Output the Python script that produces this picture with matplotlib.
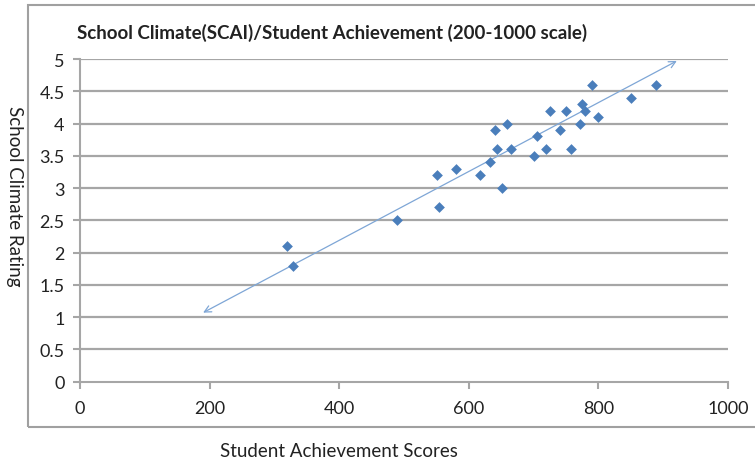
import matplotlib.pyplot as plt
from matplotlib.patches import Rectangle

# data
scores = [319, 329, 489, 551, 554, 580, 617, 633, 640, 643, 651, 659, 665,
          701, 705, 719, 725, 741, 750, 758, 771, 774, 780, 790, 800, 851, 889]
climate = [2.1, 1.8, 2.5, 3.2, 2.7, 3.3, 3.2, 3.4, 3.9, 3.6, 3.0, 4.0, 3.6,
           3.5, 3.8, 3.6, 4.2, 3.9, 4.2, 3.6, 4.0, 4.3, 4.2, 4.6, 4.1, 4.4, 4.6]
trend_x = [190, 921]
trend_y = [1.07, 4.97]
xticks = [0, 200, 400, 600, 800, 1000]
yticks = [0, 0.5, 1, 1.5, 2, 2.5, 3, 3.5, 4, 4.5, 5]

plt.rcParams['font.family'] = ['Lato', 'DejaVu Sans']

fig = plt.figure(figsize=(7.55, 4.64), dpi=100)
ax = fig.add_axes([80/755, 1-382.7/464, 648/755, (382.7-60)/464])

# outer chart frame
fig.patches.append(Rectangle((28/755, 1-428/464), 1.0, (428-6)/464,
                             transform=fig.transFigure, fill=False,
                             edgecolor='#a0a0a0', lw=1.5))

for y in yticks[1:]:
    ax.axhline(y, color='#a6a6a6', lw=1.6, zorder=0)

ax.annotate('', xy=(trend_x[1], trend_y[1]), xytext=(trend_x[0], trend_y[0]),
            arrowprops=dict(arrowstyle='<->', color='#7ea6d6', lw=0.9,
                            shrinkA=0, shrinkB=0, mutation_scale=12))
ax.scatter(scores, climate, marker='D', s=30, color='#4a7ebb', zorder=3,
           linewidths=0)

ax.set_xlim(0, 1000)
ax.set_ylim(0, 5)
ax.set_xticks(xticks)
ax.set_yticks(yticks)
ax.set_yticklabels(['0', '0.5', '1', '1.5', '2', '2.5', '3', '3.5', '4', '4.5', '5'])
for s in ['top', 'right']:
    ax.spines[s].set_visible(False)
for s in ['left', 'bottom']:
    ax.spines[s].set_color('#a6a6a6')
    ax.spines[s].set_linewidth(1.5)
ax.tick_params(colors='#a6a6a6', labelcolor='#222222', labelsize=13,
               length=5, width=1.5)
ax.tick_params(axis='x', pad=8)
ax.tick_params(axis='y', pad=6)

fig.text(332/755, 1-33/464, 'School Climate(SCAI)/Student Achievement (200-1000 scale)',
         ha='center', va='center', fontsize=13.5, fontweight='bold', color='#222222')
fig.text(14/755, 1-196/464, 'School Climate Rating', rotation=270,
         ha='center', va='center', fontsize=13.5, color='#222222')
fig.text(339/755, 1-452/464, 'Student Achievement Scores',
         ha='center', va='center', fontsize=13.5, color='#222222')

fig.savefig('out.png', dpi=100)
